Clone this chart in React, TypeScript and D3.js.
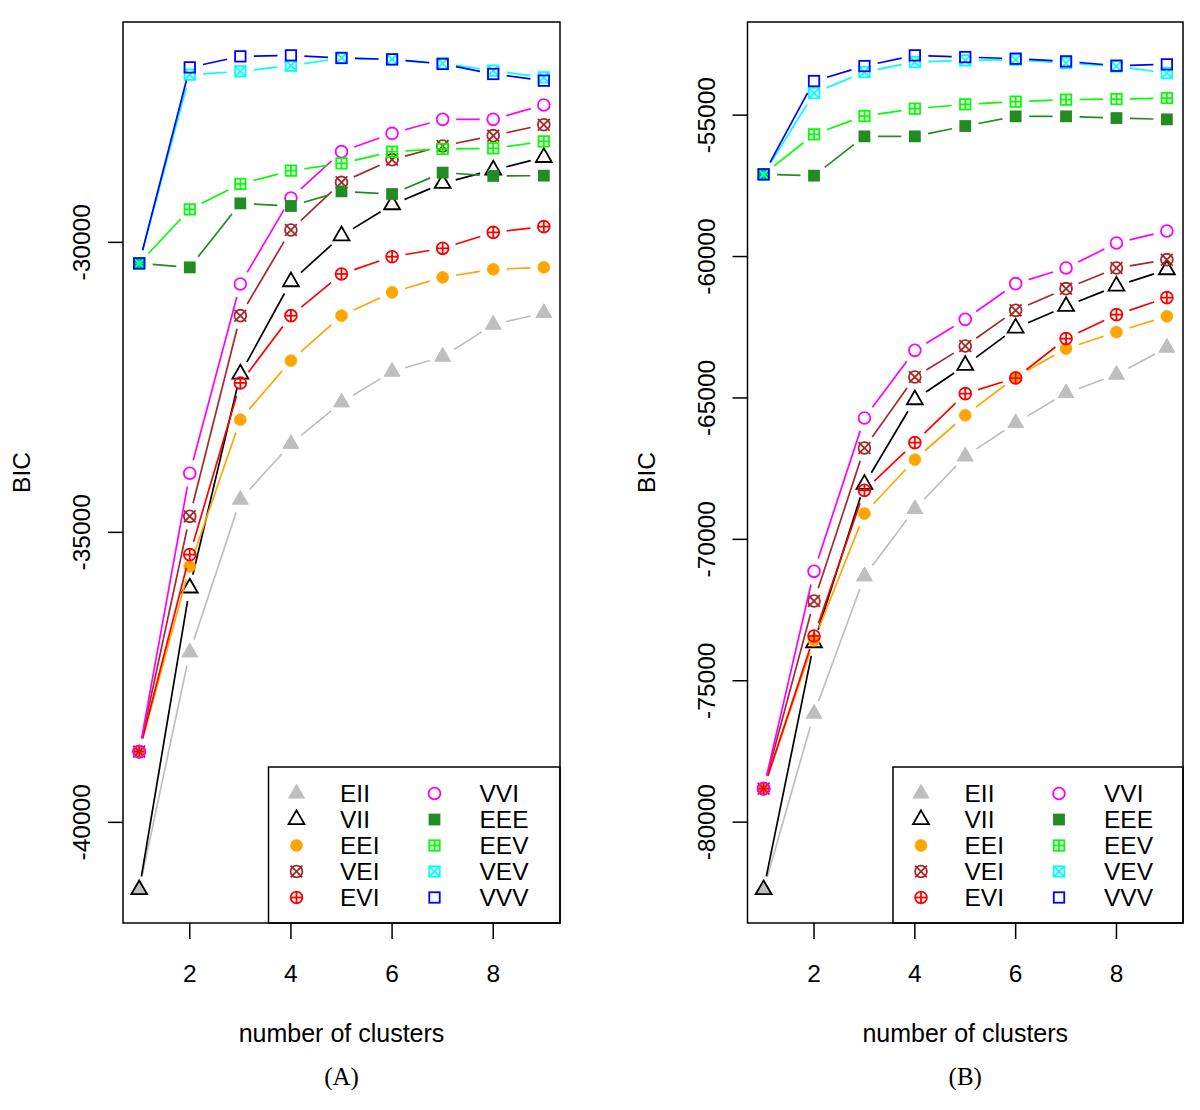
import React from "react";
import * as d3 from "d3";

// ---------- data ----------
const clusters = [1, 2, 3, 4, 5, 6, 7, 8, 9];
const modelNames = ["EII", "VII", "EEI", "VEI", "EVI", "VVI", "EEE", "EEV", "VEV", "VVV"];
const modelColors = ["#BEBEBE", "#000000", "#FFA500", "#A52A2A", "#FF0000", "#FF00FF", "#228B22", "#00FF00", "#00FFFF", "#0000FF"];
const modelSymbols = ["triFilled", "triOpen", "circleFilled", "circleX", "circlePlus", "circleOpen", "squareFilled", "squarePlus", "squareX", "squareOpen"];

const xTicks = [2, 4, 6, 8];
const yTicksA = [-40000, -35000, -30000];
const yTicksB = [-80000, -75000, -70000, -65000, -60000, -55000];

// Panel A
const bicA_EII = [-41160, -37068, -34436, -33476, -32758, -32229, -31971, -31419, -31217];
const bicA_VII = [-41160, -35958, -32269, -30678, -29885, -29350, -28983, -28752, -28535];
const bicA_EEI = [-38780, -35586, -33057, -32040, -31264, -30862, -30603, -30465, -30431];
const bicA_VEI = [-38780, -34724, -31264, -29786, -28966, -28574, -28338, -28160, -27971];
const bicA_EVI = [-38780, -35384, -32424, -31264, -30545, -30247, -30103, -29828, -29729];
const bicA_VVI = [-38780, -33982, -30717, -29235, -28436, -28121, -27879, -27879, -27631];
const bicA_EEE = [-30362, -30431, -29328, -29373, -29121, -29166, -28798, -28855, -28850];
const bicA_EEV = [-30362, -29431, -28993, -28764, -28638, -28436, -28390, -28379, -28259];
const bicA_VEV = [-30362, -27109, -27052, -26954, -26821, -26845, -26914, -27040, -27155];
const bicA_VVV = [-30362, -26983, -26793, -26776, -26821, -26845, -26924, -27097, -27212];

// Panel B
const bicB_EII = [-82386, -76163, -71308, -68928, -67065, -65887, -64827, -64176, -63221];
const bicB_VII = [-82386, -73653, -68055, -65060, -63847, -62528, -61761, -61043, -60463];
const bicB_EEI = [-78815, -73571, -69091, -67182, -65615, -64261, -63257, -62670, -62114];
const bicB_VEI = [-78815, -72181, -66771, -64261, -63165, -61902, -61135, -60407, -60110];
const bicB_EVI = [-78815, -73419, -68267, -66580, -64848, -64296, -62903, -62054, -61453];
const bicB_VVI = [-78815, -71131, -65711, -63317, -62221, -60958, -60407, -59523, -59098];
const bicB_EEE = [-57093, -57139, -55750, -55750, -55385, -55042, -55042, -55103, -55149];
const bicB_EEV = [-57093, -55679, -55032, -54770, -54618, -54523, -54452, -54431, -54395];
const bicB_VEV = [-57093, -54219, -53476, -53122, -53062, -53038, -53158, -53274, -53511];
const bicB_VVV = [-57093, -53794, -53264, -52886, -52946, -53002, -53098, -53250, -53204];

const seriesA = [bicA_EII, bicA_VII, bicA_EEI, bicA_VEI, bicA_EVI, bicA_VVI, bicA_EEE, bicA_EEV, bicA_VEV, bicA_VVV];
const seriesB = [bicB_EII, bicB_VII, bicB_EEI, bicB_VEI, bicB_EVI, bicB_VVI, bicB_EEE, bicB_EEV, bicB_VEV, bicB_VVV];

// ---------- drawing helpers ----------
const FONT = "'Liberation Sans', Arial, Helvetica, sans-serif";
const SERIF = "'Liberation Serif', 'Times New Roman', serif";
const R = 5.9;
const SW = 1.8;
const LW = 1.7;
const GAP = 13.5;
const FS = 24.5;

function Marker({ kind, cx, cy, color }: { kind: string; cx: number; cy: number; color: string }) {
  const s = R * 0.886;
  switch (kind) {
    case "triFilled":
    case "triOpen": {
      const pts = [
        [cx, cy - 1.555 * R],
        [cx + 1.3468 * R, cy + 0.7776 * R],
        [cx - 1.3468 * R, cy + 0.7776 * R],
      ]
        .map((p) => p.join(","))
        .join(" ");
      return kind === "triFilled" ? (
        <polygon points={pts} fill={color} stroke={color} strokeWidth={1} />
      ) : (
        <polygon points={pts} fill="none" stroke={color} strokeWidth={SW} strokeLinejoin="miter" />
      );
    }
    case "circleFilled":
      return <circle cx={cx} cy={cy} r={R} fill={color} stroke={color} strokeWidth={0.8} />;
    case "circleOpen":
      return <circle cx={cx} cy={cy} r={R} fill="none" stroke={color} strokeWidth={SW} />;
    case "circleX":
      return (
        <g stroke={color} strokeWidth={SW} fill="none">
          <circle cx={cx} cy={cy} r={R} />
          <line x1={cx - R} y1={cy - R} x2={cx + R} y2={cy + R} />
          <line x1={cx - R} y1={cy + R} x2={cx + R} y2={cy - R} />
        </g>
      );
    case "circlePlus":
      return (
        <g stroke={color} strokeWidth={SW} fill="none">
          <circle cx={cx} cy={cy} r={R} />
          <line x1={cx - R} y1={cy} x2={cx + R} y2={cy} />
          <line x1={cx} y1={cy - R} x2={cx} y2={cy + R} />
        </g>
      );
    case "squareFilled":
      return <rect x={cx - R} y={cy - R} width={2 * R} height={2 * R} fill={color} />;
    case "squareOpen":
      return <rect x={cx - s} y={cy - s} width={2 * s} height={2 * s} fill="none" stroke={color} strokeWidth={SW} />;
    case "squarePlus":
      return (
        <g stroke={color} strokeWidth={SW} fill="none">
          <rect x={cx - s} y={cy - s} width={2 * s} height={2 * s} />
          <line x1={cx - s} y1={cy} x2={cx + s} y2={cy} />
          <line x1={cx} y1={cy - s} x2={cx} y2={cy + s} />
        </g>
      );
    case "squareX":
      return (
        <g stroke={color} strokeWidth={SW} fill="none">
          <rect x={cx - s} y={cy - s} width={2 * s} height={2 * s} />
          <line x1={cx - s} y1={cy - s} x2={cx + s} y2={cy + s} />
          <line x1={cx - s} y1={cy + s} x2={cx + s} y2={cy - s} />
        </g>
      );
    default:
      return null;
  }
}

type PanelProps = {
  series: number[][];
  left: number;
  right: number;
  yTicks: number[];
  label: string;
};

const TOP = 22;
const BOTTOM = 923;

function Panel({ series, left, right, yTicks, label }: PanelProps) {
  const all = series.flat();
  const lo = d3.min(all) as number;
  const hi = d3.max(all) as number;
  const pad = (hi - lo) * 0.04;
  const y = d3.scaleLinear().domain([lo - pad, hi + pad]).range([BOTTOM, TOP]);
  const xPad = (clusters[clusters.length - 1] - clusters[0]) * 0.04;
  const x = d3
    .scaleLinear()
    .domain([clusters[0] - xPad, clusters[clusters.length - 1] + xPad])
    .range([left, right]);
  const cxMid = (left + right) / 2;
  const cyMid = (TOP + BOTTOM) / 2;

  const legLeft = left + 145.5;
  const legTop = 767;
  const rowY = (i: number) => 793.5 + i * 26;

  return (
    <g>
      {series.map((vals, si) => {
        const pts = vals.map((v, i) => [x(clusters[i]), y(v)]);
        const segs: React.ReactNode[] = [];
        for (let i = 0; i < pts.length - 1; i++) {
          const [x0, y0] = pts[i];
          const [x1, y1] = pts[i + 1];
          const d = Math.hypot(x1 - x0, y1 - y0);
          if (d <= 2 * GAP) continue;
          const ux = (x1 - x0) / d;
          const uy = (y1 - y0) / d;
          segs.push(
            <line
              key={"s" + i}
              x1={x0 + ux * GAP}
              y1={y0 + uy * GAP}
              x2={x1 - ux * GAP}
              y2={y1 - uy * GAP}
              stroke={modelColors[si]}
              strokeWidth={LW}
            />
          );
        }
        return (
          <g key={modelNames[si]}>
            {segs}
            {pts.map((p, i) => (
              <Marker key={"m" + i} kind={modelSymbols[si]} cx={p[0]} cy={p[1]} color={modelColors[si]} />
            ))}
          </g>
        );
      })}

      {/* legend */}
      <rect x={legLeft} y={legTop} width={right - legLeft} height={BOTTOM - legTop} fill="#fff" stroke="#000" strokeWidth={1.5} />
      {modelNames.map((name, i) => {
        const col = Math.floor(i / 5);
        const row = i % 5;
        const sx = legLeft + 28 + col * 138;
        const tx = legLeft + 71.5 + col * 139.5;
        const yy = rowY(row);
        return (
          <g key={"leg" + name}>
            <Marker kind={modelSymbols[i]} cx={sx} cy={yy} color={modelColors[i]} />
            <text x={tx} y={yy + 8.8} fontFamily={FONT} fontSize={FS} fill="#000">
              {name}
            </text>
          </g>
        );
      })}

      {/* box */}
      <rect x={left} y={TOP} width={right - left} height={BOTTOM - TOP} fill="none" stroke="#000" strokeWidth={1.5} />

      {/* x axis */}
      {xTicks.map((t) => (
        <g key={"xt" + t}>
          <line x1={x(t)} x2={x(t)} y1={BOTTOM} y2={BOTTOM + 16} stroke="#000" strokeWidth={1.5} />
          <text x={x(t)} y={981.5} textAnchor="middle" fontFamily={FONT} fontSize={FS}>
            {t}
          </text>
        </g>
      ))}
      <text x={cxMid} y={1041.5} textAnchor="middle" fontFamily={FONT} fontSize={25}>
        number of clusters
      </text>
      <text x={cxMid} y={1085} textAnchor="middle" fontFamily={SERIF} fontSize={25}>
        {label}
      </text>

      {/* y axis */}
      {yTicks.map((t) => (
        <g key={"yt" + t}>
          <line x1={left - 15} x2={left} y1={y(t)} y2={y(t)} stroke="#000" strokeWidth={1.5} />
          <text
            transform={`translate(${left - 33},${y(t)}) rotate(-90)`}
            textAnchor="middle"
            fontFamily={FONT}
            fontSize={FS}
          >
            {String(t)}
          </text>
        </g>
      ))}
      <text
        transform={`translate(${left - 93},${cyMid}) rotate(-90)`}
        textAnchor="middle"
        fontFamily={FONT}
        fontSize={FS}
      >
        BIC
      </text>
    </g>
  );
}

export default function App() {
  return (
    <div style={{ position: "absolute", left: 0, top: 0 }}>
      <svg width={1200} height={1110} viewBox="0 0 1200 1110" style={{ display: "block", background: "#fff" }}>
        <rect x={0} y={0} width={1200} height={1110} fill="#fff" />
        <Panel series={seriesA} left={123} right={560} yTicks={yTicksA} label="(A)" />
        <Panel series={seriesB} left={747.5} right={1183} yTicks={yTicksB} label="(B)" />
      </svg>
    </div>
  );
}
